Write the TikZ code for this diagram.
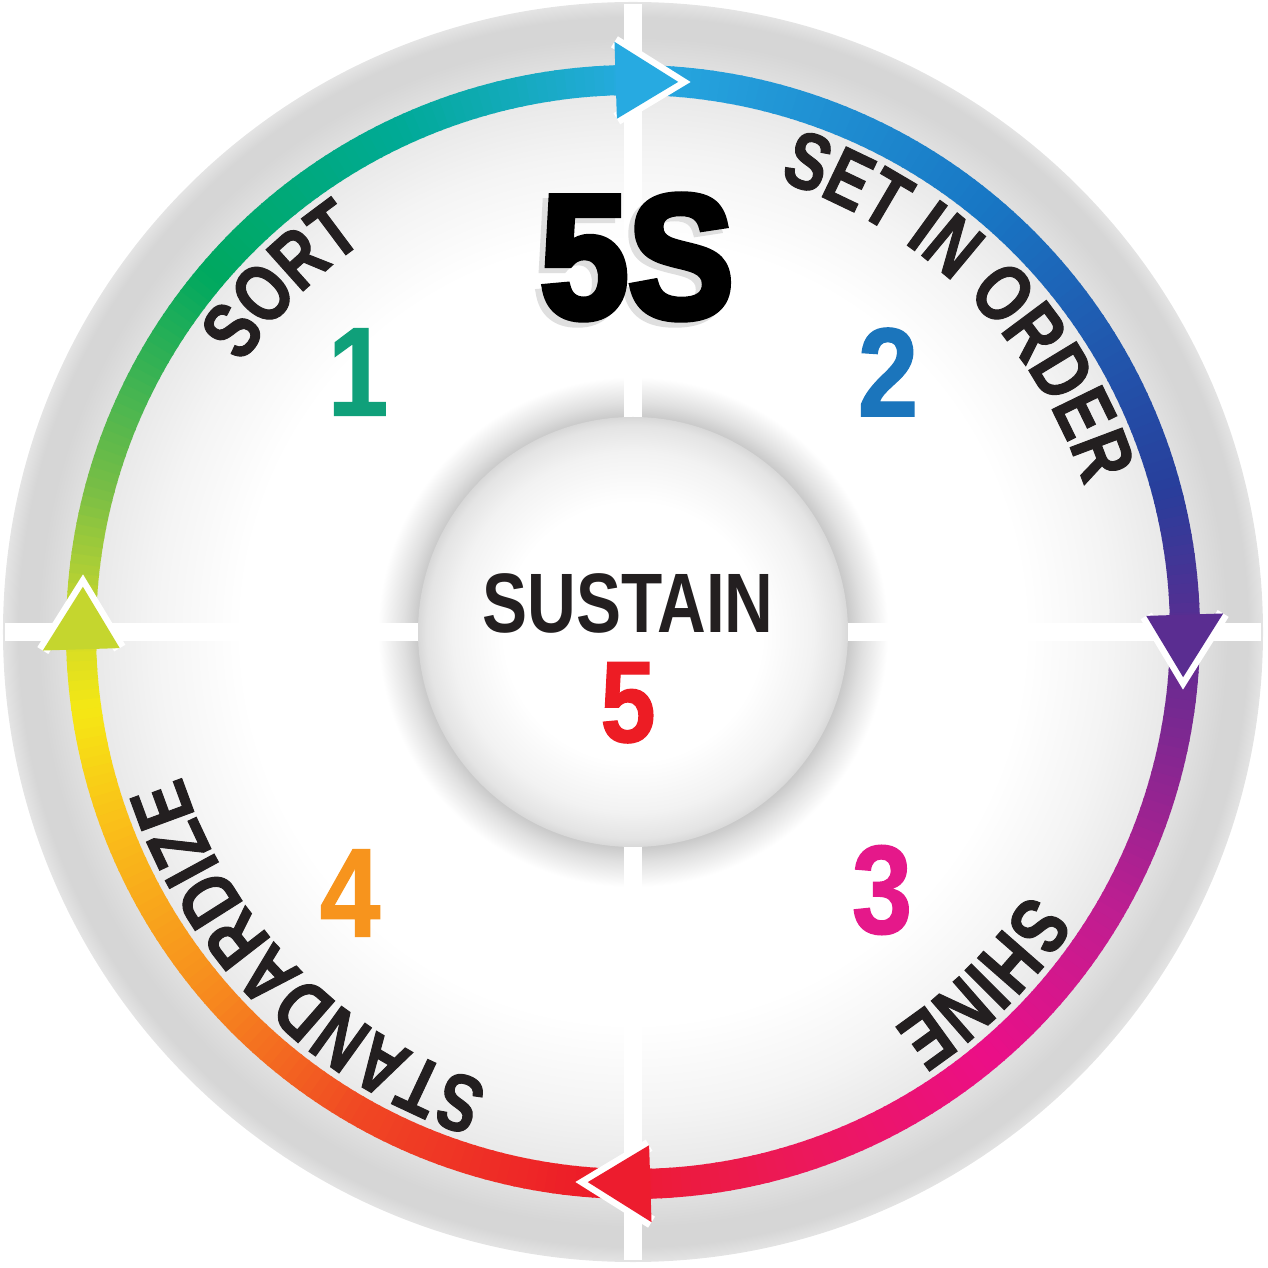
\documentclass[tikz,border=0pt]{standalone}
\usepackage{fontspec}
\setmainfont{Liberation Sans}
\newfontfamily\ringfont[FakeStretch=0.78,FakeBold=1.2]{Liberation Sans}
\newfontfamily\digitfont[FakeStretch=0.86,FakeBold=1]{Liberation Sans}
\newfontfamily\hubfont[FakeStretch=0.80]{Liberation Sans}
\newfontfamily\headfont[FakeStretch=0.90,FakeBold=4]{Liberation Sans}
\usetikzlibrary{positioning,decorations.text}
\newcommand{\ringtype}{\ringfont\bfseries\fontsize{23pt}{26pt}\selectfont}
\newcommand{\numtype}{\digitfont\bfseries\fontsize{36pt}{40pt}\selectfont}

\definecolor{ink}{RGB}{35,31,32}
\definecolor{sA}{RGB}{39,170,225}
\definecolor{sB}{RGB}{24,118,196}
\definecolor{sC}{RGB}{40,62,155}
\definecolor{sD}{RGB}{90,45,145}
\definecolor{sE}{RGB}{190,30,145}
\definecolor{sF}{RGB}{235,15,135}
\definecolor{sG}{RGB}{236,25,85}
\definecolor{sH}{RGB}{237,28,40}
\definecolor{sI}{RGB}{240,72,35}
\definecolor{sJ}{RGB}{247,140,30}
\definecolor{sK}{RGB}{250,192,25}
\definecolor{sL}{RGB}{245,232,20}
\definecolor{sM}{RGB}{200,215,45}
\definecolor{sN}{RGB}{120,190,70}
\definecolor{sO}{RGB}{0,168,95}
\definecolor{sP}{RGB}{0,170,150}
\definecolor{headN}{RGB}{39,170,225}
\definecolor{headE}{RGB}{90,45,145}
\definecolor{headS}{RGB}{237,28,46}
\definecolor{headW}{RGB}{197,214,46}
\definecolor{numA}{RGB}{16,160,122}
\definecolor{numB}{RGB}{27,117,188}
\definecolor{numC}{RGB}{229,24,138}
\definecolor{numD}{RGB}{247,148,29}
\definecolor{numE}{RGB}{237,28,36}
\definecolor{plateA}{RGB}{244,244,244}
\definecolor{plateB}{RGB}{232,232,232}
\definecolor{plateC}{RGB}{214,214,214}
\definecolor{plateD}{RGB}{228,228,228}
\definecolor{shadowA}{RGB}{200,200,200}
\definecolor{shadowB}{RGB}{224,224,224}
\definecolor{hubA}{RGB}{242,242,242}
\definecolor{hubB}{RGB}{228,228,228}
\definecolor{hubC}{RGB}{216,216,216}

\pgfdeclareradialshading{plate}{\pgfpoint{0bp}{0bp}}{color(0bp)=(white); color(15.5bp)=(white); color(19bp)=(plateA); color(21.6bp)=(plateB); color(23.6bp)=(plateC); color(24.4bp)=(plateC); color(25bp)=(plateD); color(50bp)=(plateD)}
\pgfdeclareradialshading{hubshadow}{\pgfpoint{0bp}{0bp}}{color(0bp)=(shadowA); color(21bp)=(shadowA); color(22.5bp)=(shadowB); color(25bp)=(white); color(50bp)=(white)}
\pgfdeclareradialshading{hub}{\pgfpoint{0bp}{0bp}}{color(0bp)=(white); color(15bp)=(white); color(21bp)=(hubA); color(24bp)=(hubB); color(25bp)=(hubC); color(50bp)=(hubC)}

\begin{document}
\begin{tikzpicture}[
    bandseg/.style={line width=3mm, line cap=butt},
    ringtext/.style={decorate, decoration={text along path, text align=center, text color=ink}},
    stepnum/.style={inner sep=0pt, font=\numtype},
    bar/.style={fill=white}
    ]
    \useasboundingbox (-6.33,-6.36) rectangle (6.34,6.32);
    \def\rb{5.52}
        %Plate
        \shade[shading=plate] (0,0) circle (6.30);
        \shade[shading=hubshadow] (0,0) circle (2.55);
        \fill[bar] (-0.09,2.1) rectangle (0.09,6.28);
        \fill[bar] (-0.09,-2.1) rectangle (0.09,-6.28);
        \fill[bar] (2.1,-0.09) rectangle (6.28,0.09);
        \fill[bar] (-2.1,-0.09) rectangle (-6.28,0.09);
        \shade[shading=hub] (0,0) circle (2.15);

        %Band
        \foreach \ca/\cb/\ang/\len in {sA/sB/90/40, sB/sC/50/35, sC/sD/15/15,
            sD/sE/0/30, sE/sF/-30/20, sF/sG/-50/25, sG/sH/-75/20, sH/sI/-95/25,
            sI/sJ/-120/20, sJ/sK/-140/20, sK/sL/-160/12, sL/sM/-172/10,
            sM/sN/-182/13, sN/sO/-195/25, sO/sP/-220/25, sP/sA/-245/25} {
            \foreach \k in {1,...,\len} {
                \pgfmathsetmacro\mix{(\k-0.5)/\len*100}
                \pgfmathsetmacro\aS{\ang-\k+1}
                \pgfmathsetmacro\aE{\ang-\k-0.2}
                \colorlet{segcol}{\cb!\mix!\ca}
                \draw[bandseg, segcol] (\aS:\rb) arc (\aS:\aE:\rb);
            }
        }

        %Arrowheads
        \foreach \q/\hc/\nm in {90/headN/n, 0/headE/e, -90/headS/s, -180/headW/w} {
            \coordinate (\nm tip) at (\q-4.7:\rb);
            \coordinate (\nm out) at (\q+1.8:\rb+0.385);
            \coordinate (\nm in) at (\q+1.8:\rb-0.385);
            \draw[white, line width=1.3mm, line join=miter] (\nm out) -- (\nm tip) -- (\nm in);
            \fill[\hc] (\nm out) -- (\nm tip) -- (\nm in) -- cycle;
        }

        %Ring labels
        \path[ringtext, decoration={text={|\ringtype|SORT}}]
            (165:4.74) arc (165:105:4.74);
        \path[ringtext, decoration={text={|\ringtype|SET IN ORDER}}]
            (88:4.74) arc (88:2:4.74);
        \path[ringtext, decoration={text={|\ringtype|SHINE}}]
            (-15:4.74) arc (-15:-75:4.74);
        \path[ringtext, decoration={text={|\ringtype|STANDARDIZE}}]
            (268:4.74) arc (268:182:4.74);

        %Nodes
        \node[inner sep=0pt, text=gray!25, font=\headfont\bfseries\fontsize{50pt}{54pt}\selectfont]
            (logoshadow) at (-0.02,3.70) {5S};
        \node[inner sep=0pt, text=black, font=\headfont\bfseries\fontsize{50pt}{54pt}\selectfont]
            (logo) at (0.04,3.75) {5S};
        \node[stepnum, text=numA] (numsort)  at (-2.75,2.60) {1};
        \node[stepnum, text=numB] (numset)   at (2.55,2.60)  {2};
        \node[stepnum, text=numC] (numshine) at (2.49,-2.58) {3};
        \node[stepnum, text=numD] (numstd)   at (-2.83,-2.61) {4};
        \node[inner sep=0pt, text=ink, font=\hubfont\bfseries\fontsize{24pt}{28pt}\selectfont]
            (sustain) at (-0.05,0.29) {SUSTAIN};
        \node[stepnum, text=numE, font=\digitfont\bfseries\fontsize{33pt}{36pt}\selectfont]
            (numsustain) [below=0.28 of sustain] {5};
\end{tikzpicture}
\end{document}
